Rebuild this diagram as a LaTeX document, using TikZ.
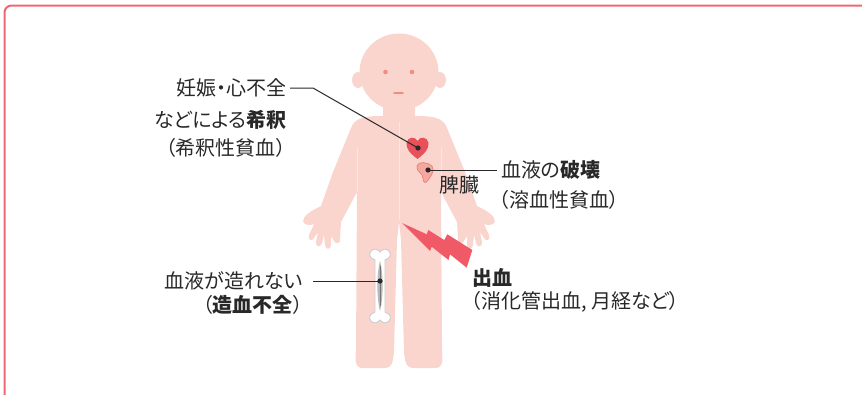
\documentclass[tikz,border=0pt]{standalone}
\usepackage{fontspec}
\setmainfont{Noto Sans CJK JP}[RawFeature=+palt]
\definecolor{framered}{RGB}{238,104,114}
\definecolor{skin}{RGB}{250,213,206}
\definecolor{skinline}{RGB}{253,230,226}
\definecolor{face}{RGB}{240,140,128}
\definecolor{heartred}{RGB}{232,80,90}
\definecolor{boltred}{RGB}{239,90,102}
\definecolor{spleenfill}{RGB}{245,168,160}
\definecolor{spleenline}{RGB}{236,132,126}
\definecolor{ink}{RGB}{40,40,40}
\newcommand{\halfbody}{(398.5,98) -- (415,98) -- (415,116)
  .. controls (432,116) and (443,117) .. (447,128)
  -- (465,172) -- (477,206)
  .. controls (485,210) and (491,213) .. (494,218)
  .. controls (497,223) and (492,227) .. (484,224)
  -- (489,235) .. controls (491,240) and (486,242) .. (484,238)
  -- (480,232)
  -- (482,242) .. controls (483,247) and (477,248) .. (476,243)
  -- (474,235)
  -- (473,245) .. controls (473,250) and (467,250) .. (467,245)
  -- (467,236)
  -- (464,241) .. controls (462,245) and (457,243) .. (458,239)
  -- (457,222) -- (441,192) -- (442,350)
  .. controls (443,362) and (443,368) .. (435,368)
  -- (413,368) .. controls (407,368) and (405,364) .. (404,352)
  -- (401,240) -- (399,222) -- (398.5,222) -- cycle}
\tikzset{
  lbl/.style={inner sep=0pt, text=ink, font=\fontsize{20}{24}\selectfont},
  lead/.style={draw=ink, line width=1pt},
  seam/.style={draw=skinline, line width=0.8pt}
}
\begin{document}
\begin{tikzpicture}[x=1pt, y=-1pt]
  \useasboundingbox (0,0) rectangle (862,394);
  \draw[framered, line width=2pt, rounded corners=7pt] (4.5,5.5) rectangle (880,420);

  \fill[skin] \halfbody;
  \begin{scope}[xshift=798pt, xscale=-1]
    \fill[skin] \halfbody;
    \draw[seam] (441,148) -- (441,192);
  \end{scope}
  \draw[seam] (441,148) -- (441,192);
  \draw[seam] (399,122) -- (399,220);
  \fill[skin] (358,80) ellipse (6 and 8) (440,80) ellipse (6 and 8);
  \fill[skin] (399,72) ellipse (39.5 and 38.5);
  \fill[face] (385.5,72) circle (2.3) (412,72) circle (2.3);
  \draw[face, line width=1.4pt, line cap=round] (394,93) -- (403,93);

  \fill[heartred] (417.5,159) .. controls (410,153) and (406,149) .. (406.5,143)
    .. controls (407.5,136.5) and (415,136) .. (417.5,141)
    .. controls (420,136) and (427.5,136.5) .. (428.5,143)
    .. controls (429,149) and (425,153) .. (417.5,159) -- cycle;
  \filldraw[fill=spleenfill, draw=spleenline, line width=0.8pt]
    (417,166) .. controls (418,161) and (428,162) .. (432,166)
    .. controls (435,171) and (431,176) .. (428,180)
    .. controls (426,184) and (423,183) .. (423,178)
    .. controls (423,173) and (416,172) .. (417,166) -- cycle;

  \filldraw[fill=white, draw=black!20, line width=0.9pt]
    (375,260) .. controls (370,258) and (368,255) .. (371,251)
    .. controls (374,247.5) and (378,249.5) .. (380,252)
    .. controls (382,249.5) and (386,247.5) .. (389,251)
    .. controls (392,255) and (390,258) .. (385,260)
    -- (385,312) .. controls (390,314) and (392,317) .. (389,321)
    .. controls (386,324.5) and (382,322.5) .. (380,320)
    .. controls (378,322.5) and (374,324.5) .. (371,321)
    .. controls (368,317) and (370,314) .. (375,312) -- cycle;
  \fill[black!28] (380,261) .. controls (383.5,275) and (383.5,297) .. (380,311)
    .. controls (376.5,297) and (376.5,275) .. (380,261) -- cycle;
  \draw[black!55, line width=0.8pt] (380,266) -- (380,306);

  \fill[boltred] (402,223) -- (426.7,234.3) -- (428.3,230) -- (444.3,240)
    -- (447.3,234.3) -- (472.3,250) -- (466.7,267.7) -- (450,254.3)
    -- (448.5,260) -- (431.7,246.7) -- (430,251) -- cycle;

  \node[lbl, anchor=east] (dilA) at (287,88) {妊娠・心不全};
  \node[lbl, anchor=east] (dilB) at (287,120) {などによる\textbf{希釈}};
  \node[lbl, anchor=east] (dilC) at (286,148) {（希釈性貧血）};
  \node[lbl, anchor=west] (hemA) at (501,170) {血液の\textbf{破壊}};
  \node[lbl, anchor=west] (hemB) at (499,200) {（溶血性貧血）};
  \node[lbl, anchor=west] (spl) at (439,185) {脾臓};
  \node[lbl, anchor=east] (aplA) at (303,281) {血液が造れない};
  \node[lbl, anchor=east] (aplB) at (303,305) {（\textbf{造血不全}）};
  \node[lbl, anchor=west] (bldA) at (472,278) {\textbf{出血}};
  \node[lbl, anchor=west] (bldB) at (471,302) {（消化管出血, 月経など）};

  \coordinate (heart) at (418,148);
  \coordinate (spleen) at (428,170);
  \coordinate (marrow) at (380,281);
  \draw[lead] ([xshift=3pt]dilA.east) -- ++(23,0) -- (heart);
  \draw[lead] (spleen) -- ([xshift=-4pt]hemA.west);
  \draw[lead] ([xshift=10pt]aplA.east) -- (marrow);
  \fill[ink] (heart) circle (2.6) (spleen) circle (2.6) (marrow) circle (2.6);
\end{tikzpicture}
\end{document}
